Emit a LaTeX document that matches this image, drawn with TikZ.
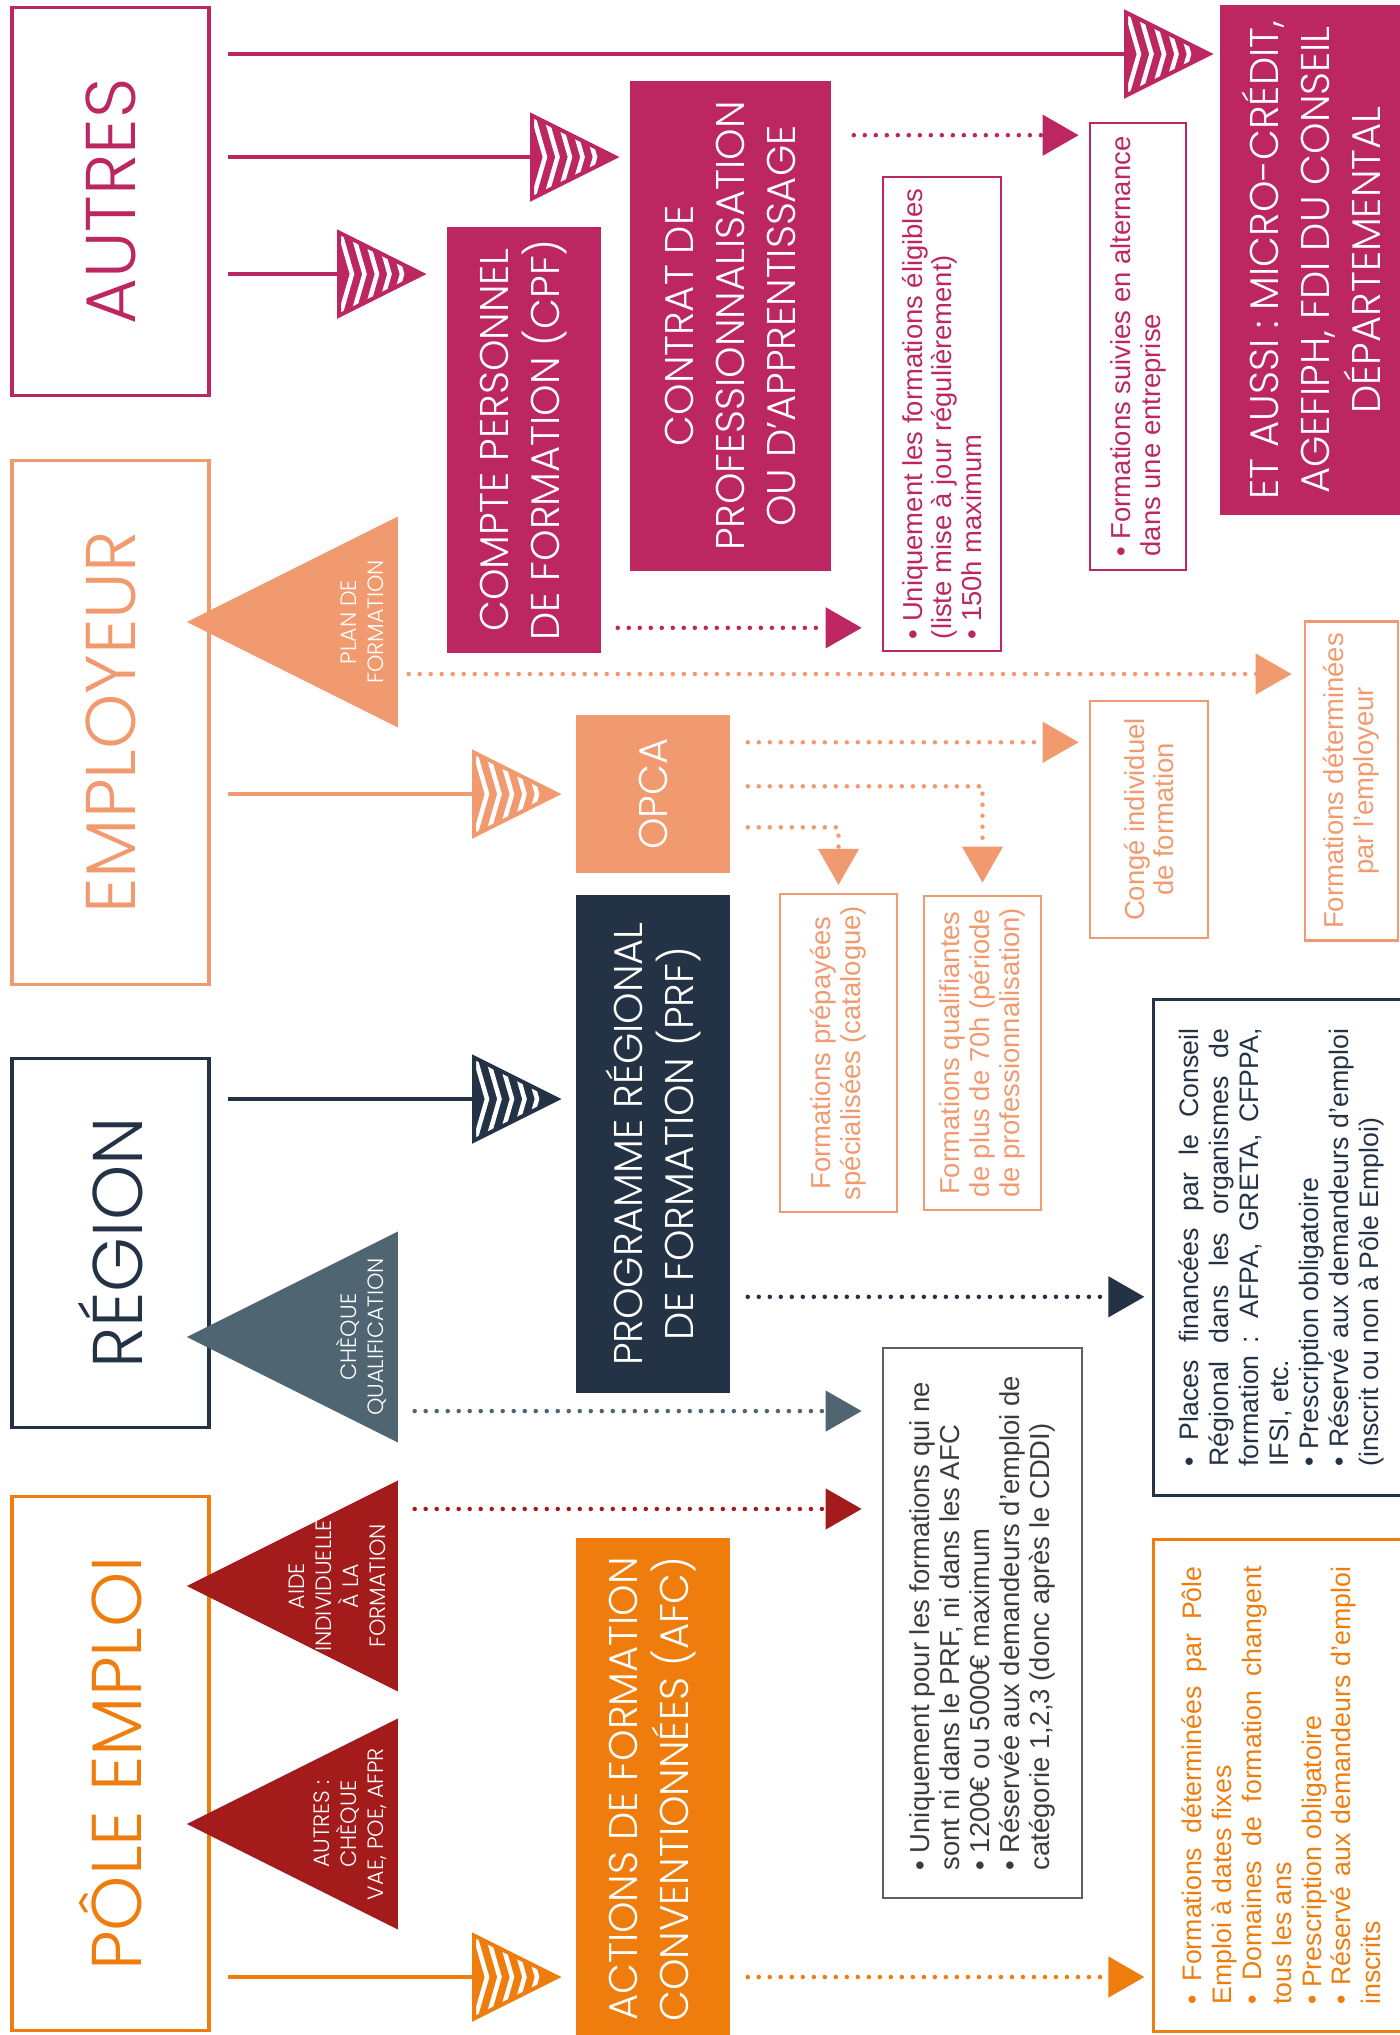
\documentclass[tikz,border=0pt]{standalone}
\usepackage{fontspec}
\setmainfont{Liberation Sans}
\newfontfamily\headfont{Poppins}[UprightFont=* Light]
\usepackage{xcolor}
\usepackage{tikz}
\usetikzlibrary{positioning, arrows.meta, shapes.geometric, calc}

\definecolor{autrescol}{RGB}{188,39,98}
\definecolor{employcol}{RGB}{241,154,111}
\definecolor{regioncol}{RGB}{35,51,69}
\definecolor{chequecol}{RGB}{80,101,114}
\definecolor{aidecol}{RGB}{163,27,26}
\definecolor{polecol}{RGB}{238,125,13}
\definecolor{boxgrey}{RGB}{95,95,95}
\definecolor{textgrey}{RGB}{60,60,60}

\begin{document}
\begin{tikzpicture}[
        x=0.01cm, y=-0.01cm,
        heading/.style={
            rectangle,
            draw=#1,
            text=#1,
            line width=0.035cm,
            rotate=90,
            minimum height=1.97cm,
            font=\headfont\fontsize{20}{24}\selectfont
        },
        block/.style={
            rectangle,
            fill=#1,
            text=white,
            rotate=90,
            align=center,
            inner sep=0pt,
            font=\headfont\fontsize{11.4}{14.5}\selectfont
        },
        info/.style={
            rectangle,
            draw=#1,
            text=#1,
            line width=0.025cm,
            rotate=90,
            align=left,
            font=\fontsize{7.8}{8.5}\selectfont
        },
        infojust/.style={
            info=#1,
            line width=0.03cm,
            align=justify,
            text width=4.38cm,
            minimum height=2.55cm,
            font=\fontsize{7.6}{8.5}\selectfont
        },
        bigtri/.style={
            isosceles triangle,
            isosceles triangle stretches,
            shape border rotate=180,
            fill=#1,
            inner sep=0pt,
            minimum width=2.11cm,
            minimum height=2.11cm,
            anchor=apex
        },
        tritext/.style={
            rotate=90,
            text=white,
            align=center,
            inner sep=0pt,
            font=\headfont\fontsize{6.3}{7.7}\selectfont
        },
        hatchtri/.style={
            isosceles triangle,
            isosceles triangle stretches,
            draw=#1,
            fill=#1,
            line width=0.04cm,
            inner sep=0pt,
            minimum width=0.83cm,
            minimum height=0.83cm,
            anchor=lower side,
            path picture={
                \foreach \k in {0,...,4}
                    \draw[white, line width=0.045cm]
                    ([xshift=0.13cm+\k*0.125cm]path picture bounding box.west)
                    ++(-0.13cm,0.45cm) -- ++(0.13cm,-0.45cm) -- ++(-0.13cm,-0.45cm);
            }
        },
        link/.style={
            draw=#1,
            line width=0.036cm
        },
        dotlink/.style={
            draw=#1,
            color=#1,
            line width=0.045cm,
            line cap=round,
            dash pattern=on 0pt off 0.11cm,
            -{Triangle[length=0.36cm, width=0.40cm]}
        }
    ]

    \useasboundingbox (0,0) rectangle (1400,2035);

    % Financeurs

    \node[heading=autrescol, minimum width=3.88cm] (autres) at (110.5,201.5) {AUTRES};
    \node[heading=employcol, minimum width=5.24cm] (employeur) at (110.5,722.5) {EMPLOYEUR};
    \node[heading=regioncol, minimum width=3.69cm] (region) at (110.5,1243) {RÉGION};
    \node[heading=polecol, minimum width=5.34cm] (pole) at (110.5,1763.5) {PÔLE EMPLOI};

    % Dispositifs

    \node[block=autrescol, minimum width=4.26cm, minimum height=1.54cm] (cpf) at (524,440)
    {COMPTE PERSONNEL\\DE FORMATION (CPF)};

    \node[block=autrescol, minimum width=4.90cm, minimum height=2.01cm] (contrat) at (730.5,326)
    {CONTRAT DE\\PROFESSIONNALISATION\\OU D’APPRENTISSAGE};

    \node[block=autrescol, minimum width=5.10cm, minimum height=1.82cm] (aussi) at (1311,260)
    {ET AUSSI : MICRO-CRÉDIT,\\AGEFIPH, FDI DU CONSEIL\\DÉPARTEMENTAL};

    \node[block=employcol, minimum width=1.58cm, minimum height=1.54cm] (opca) at (653,794)
    {OPCA};

    \node[block=regioncol, minimum width=4.98cm, minimum height=1.54cm] (prf) at (653,1144)
    {PROGRAMME RÉGIONAL\\DE FORMATION (PRF)};

    \node[block=polecol, minimum width=5.02cm, minimum height=1.54cm] (afc) at (653,1789)
    {ACTIONS DE FORMATION\\CONVENTIONNÉES (AFC)};

    % Aides directes

    \node[bigtri=employcol] (plan) at (185,622) {};
    \node[bigtri=chequecol] (cheque) at (185,1337) {};
    \node[bigtri=aidecol] (aide) at (185,1586) {};
    \node[bigtri=aidecol] (autrespe) at (185,1824) {};

    \node[tritext] at ([xshift=-0.36cm]plan.lower side) {PLAN DE\\FORMATION};
    \node[tritext] at ([xshift=-0.37cm]cheque.lower side) {CHÈQUE\\QUALIFICATION};
    \node[tritext] at ([xshift=-0.61cm]aide.lower side) {AIDE\\INDIVIDUELLE\\À LA\\FORMATION};
    \node[tritext] at ([xshift=-0.48cm]autrespe.lower side) {AUTRES :\\CHÈQUE\\VAE, POE, AFPR};

    % Conditions

    \node[info=autrescol, minimum width=4.74cm, minimum height=1.18cm] (elig) at (942,414)
    {• Uniquement les formations éligibles\\(liste mise à jour régulièrement)\\• 150h maximum};

    \node[info=autrescol, minimum width=4.47cm, minimum height=0.96cm] (altern) at (1138,346.5)
    {• Formations suivies en alternance\\dans une entreprise};

    \node[info=employcol, align=center, minimum width=3.14cm, minimum height=0.93cm] (emplr) at (1351.5,781)
    {Formations déterminées\\par l'employeur};

    \node[info=employcol, align=center, minimum width=2.37cm, minimum height=1.18cm] (cif) at (1149,819.5)
    {Congé individuel\\de formation};

    \node[info=employcol, align=center, minimum width=3.14cm, minimum height=1.17cm] (prepay) at (838.5,1053)
    {Formations prépayées\\spécialisées (catalogue)};

    \node[info=employcol, align=center, minimum width=3.14cm, minimum height=1.17cm] (qualif) at (982.5,1053)
    {Formations qualifiantes\\de plus de 70h (période\\de professionnalisation)};

    \node[infojust=regioncol, minimum width=4.95cm] (places) at (1281.5,1247.5)
    {• Places financées par le Conseil\linebreak
    Régional dans les organismes de\linebreak
    formation : AFPA, GRETA, CFPPA,\linebreak
    IFSI, etc.\\
    • Prescription obligatoire\\
    • Réservé aux demandeurs d'emploi\linebreak
    (inscrit ou non à Pôle Emploi)};

    \node[info=boxgrey, text=textgrey, minimum width=5.50cm, minimum height=1.99cm] (aif) at (982.5,1623)
    {• Uniquement pour les formations qui ne\\sont ni dans le PRF, ni dans les AFC\\• 1200€ ou 5000€ maximum\\• Réservée aux demandeurs d'emploi de\\catégorie 1,2,3 (donc après le CDDI)};

    \node[infojust=polecol, minimum width=4.91cm] (afcinfo) at (1281.5,1785.5)
    {• Formations déterminées par Pôle\linebreak
    Emploi à dates fixes\\
    • Domaines de formation changent\linebreak
    tous les ans\\
    • Prescription obligatoire\\
    • Réservé aux demandeurs d'emploi\linebreak
    inscrits};

    % Fleches pleines

    \node[hatchtri=autrescol] (h1) at (1124,54) {};
    \node[hatchtri=autrescol] (h2) at (530,157) {};
    \node[hatchtri=autrescol] (h3) at (337,274) {};
    \node[hatchtri=employcol] (h4) at (472,794) {};
    \node[hatchtri=regioncol] (h5) at (472,1099) {};
    \node[hatchtri=polecol] (h6) at (472,1977) {};

    \draw[link=autrescol] ([xshift=0.17cm]h1.lower side -| autres.south) -- (h1.lower side);
    \draw[link=autrescol] ([xshift=0.17cm]h2.lower side -| autres.south) -- (h2.lower side);
    \draw[link=autrescol] ([xshift=0.17cm]h3.lower side -| autres.south) -- (h3.lower side);
    \draw[link=employcol] ([xshift=0.17cm]h4.lower side -| employeur.south) -- (h4.lower side);
    \draw[link=regioncol] ([xshift=0.17cm]h5.lower side -| region.south) -- (h5.lower side);
    \draw[link=polecol] ([xshift=0.17cm]h6.lower side -| pole.south) -- (h6.lower side);

    % Fleches pointillees

    \coordinate (cpfout) at ([xshift=0.16cm,yshift=0.26cm]cpf.south west);
    \coordinate (contout) at ([xshift=0.22cm,yshift=-0.55cm]contrat.south east);
    \coordinate (planout) at ([xshift=0.10cm,yshift=-0.52cm]plan.lower side);
    \coordinate (opcaout1) at ([xshift=0.17cm,yshift=-0.28cm]opca.south east);
    \coordinate (opcaout2) at ([xshift=0.17cm,yshift=-0.72cm]opca.south east);
    \coordinate (opcaout3) at ([xshift=0.17cm,yshift=-1.13cm]opca.south east);
    \coordinate (prfout) at ([xshift=0.17cm,yshift=0.97cm]prf.south west);
    \coordinate (chqout) at ([xshift=0.16cm,yshift=-0.74cm]cheque.lower side);
    \coordinate (aideout) at ([xshift=0.16cm,yshift=0.77cm]aide.lower side);
    \coordinate (afcout) at ([xshift=0.17cm]h6.lower side -| afc.south);

    \draw[dotlink=autrescol, shorten >=0.2cm] (cpfout) -- (cpfout -| elig.north);
    \draw[dotlink=autrescol, shorten >=0.1cm] (contout) -- (contout -| altern.north);
    \draw[dotlink=employcol, shorten >=0.12cm] (planout) -- (planout -| emplr.north);
    \draw[dotlink=employcol, shorten >=0.1cm] (opcaout1) -- (opcaout1 -| cif.north);
    \draw[dotlink=employcol, shorten >=0.12cm] (opcaout2) -| (qualif.east);
    \draw[dotlink=employcol, shorten >=0.08cm] (opcaout3) -| (prepay.east);
    \draw[dotlink=regioncol, shorten >=0.08cm] (prfout) -- (prfout -| places.north);
    \draw[dotlink=chequecol, shorten >=0.2cm] (chqout) -- (chqout -| aif.north);
    \draw[dotlink=aidecol, shorten >=0.2cm] (aideout) -- (aideout -| aif.north);
    \draw[dotlink=polecol, shorten >=0.08cm] (afcout) -- (afcout -| afcinfo.north);

\end{tikzpicture}
\end{document}
